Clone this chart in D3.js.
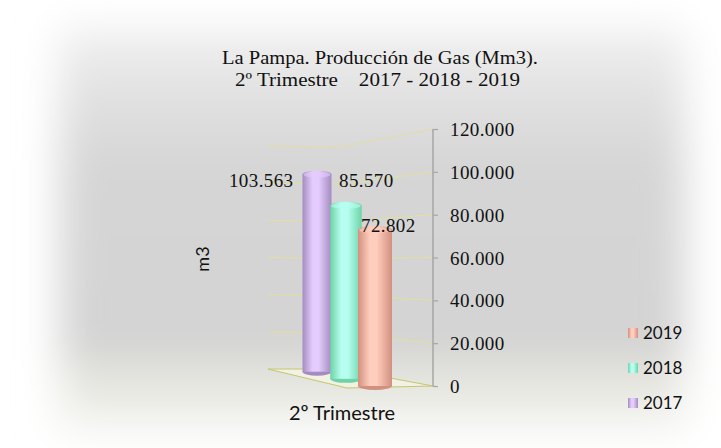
<!DOCTYPE html>
<html>
<head>
<meta charset="utf-8">
<script src="https://cdn.jsdelivr.net/npm/d3@7"></script>
<style>
  body { margin: 0; background: #fff; }
  svg { display: block; }
</style>
</head>
<body>
<svg id="chart" width="721" height="448"></svg>
<script>
// data
const years = ["2017", "2018", "2019"];
const values = [103563, 85570, 72802];
const labels = ["103.563", "85.570", "72.802"];
const category = "2º Trimestre";
const yTicks = [0, 20000, 40000, 60000, 80000, 100000, 120000];
const tickLabels = ["0", "20.000", "40.000", "60.000", "80.000", "100.000", "120.000"];

const colors = {
  "2017": ["#a58cc0", "#e4ccff"],
  "2018": ["#6fd3a6", "#b6fff0"],
  "2019": ["#d2907f", "#ffcdbd"]
};

const svg = d3.select("#chart");
const defs = svg.append("defs");

// soft grey backdrop
const bg = defs.append("linearGradient").attr("id", "bg").attr("x1", 0).attr("y1", 0).attr("x2", 0).attr("y2", 1);
[[0, "#f0f0f0"], [0.16, "#e2e2e2"], [0.35, "#d5d5d5"], [0.83, "#d3d3d3"], [0.85, "#e6e6df"], [0.94, "#eaeae4"], [1, "#f4f4f2"]]
  .forEach(([o, c]) => bg.append("stop").attr("offset", o).attr("stop-color", c));
defs.append("filter").attr("id", "blur").attr("x", "-20%").attr("y", "-20%").attr("width", "140%").attr("height", "140%")
  .append("feGaussianBlur").attr("stdDeviation", 20);

svg.append("rect").attr("width", 721).attr("height", 448).attr("fill", "#fff");
svg.append("rect")
  .attr("x", 60).attr("y", 28).attr("width", 625).attr("height", 400)
  .attr("fill", "url(#bg)")
  .attr("filter", "url(#blur)");

// cylinder gradients
years.forEach((yr) => {
  const g = defs.append("linearGradient").attr("id", "cyl" + yr).attr("x1", 0).attr("x2", 1).attr("y1", 0).attr("y2", 0);
  const [dark, light] = colors[yr];
  [[0, dark], [0.35, light], [0.55, light], [1, dark]]
    .forEach(([o, c]) => g.append("stop").attr("offset", o).attr("stop-color", c));
});

// 3d frame: back and front of the depth axis
const yBack = d3.scaleLinear().domain([0, 120000]).range([369, 146]);
const yFront = d3.scaleLinear().domain([0, 120000]).range([386, 129]);
const wallLeft = 268, wallCorner = 342, axisX = 433, floorFrontLeft = 347;

// depth of each series (0 = back wall, 1 = front)
const depth = d3.scalePoint().domain(years).range([0.16, 1]);
const cxScale = d3.scaleLinear().domain([0.16, 1]).range([317, 375]);
const wScale = d3.scaleLinear().domain([0.16, 1]).range([29, 34]);
const yAt = (t) => d3.scaleLinear().domain([0, 120000])
  .range([d3.interpolate(yBack(0), yFront(0))(t), d3.interpolate(yBack(120000), yFront(120000))(t)]);

// floor
svg.append("polygon")
  .attr("points", [[wallLeft, yBack(0)], [wallCorner, yBack(0)], [axisX, yFront(0)], [floorFrontLeft, yFront(0) + 2]].join(" "))
  .attr("fill", "#f1f1e4")
  .attr("stroke", "#c6c66e")
  .attr("stroke-width", 1);

// gridlines
svg.append("g").selectAll("polyline")
  .data(yTicks.filter((d) => d > 0))
  .join("polyline")
  .attr("points", (d) => [[wallLeft, yBack(d)], [wallCorner, yBack(d) + 1], [axisX, yFront(d)]].join(" "))
  .attr("fill", "none")
  .attr("stroke", "#e0e0a0")
  .attr("stroke-width", 1);

// axis
const axis = d3.axisRight(yFront).tickValues(yTicks).tickSize(5).tickFormat((d, i) => tickLabels[i]);
const ax = svg.append("g").attr("transform", `translate(${axisX},0)`).call(axis);
ax.select(".domain").attr("stroke", "#a6a6a6").attr("stroke-width", 1.5).attr("d", `M0,${yFront(120000)}V${yFront(0)}`);
ax.selectAll(".tick line").attr("stroke", "#a6a6a6").attr("stroke-width", 1.2);
ax.selectAll(".tick text")
  .attr("x", 17)
  .attr("dy", "0.35em")
  .attr("fill", "#111")
  .style("font-family", "'Liberation Serif', serif")
  .style("font-size", "19px")
  .style("letter-spacing", "0.4px");

// cylinders
const bars = svg.append("g").selectAll("g")
  .data(years.map((yr, i) => ({yr, v: values[i], label: labels[i], t: depth(yr)})))
  .join("g");

bars.each(function (d) {
  const g = d3.select(this);
  const y = yAt(d.t);
  const cx = cxScale(d.t), w = wScale(d.t), ry = 4;
  const top = y(d.v), base = y(0);
  g.append("ellipse").attr("cx", cx).attr("cy", base).attr("rx", w / 2).attr("ry", ry)
    .attr("fill", colors[d.yr][0]);
  g.append("rect").attr("x", cx - w / 2).attr("y", top).attr("width", w).attr("height", base - top)
    .attr("fill", `url(#cyl${d.yr})`);
  g.append("ellipse").attr("cx", cx).attr("cy", top).attr("rx", w / 2).attr("ry", ry)
    .attr("fill", `url(#cyl${d.yr})`);
  g.append("ellipse").attr("cx", cx).attr("cy", top).attr("rx", w / 2 - 1).attr("ry", ry - 1)
    .attr("fill", colors[d.yr][1]).attr("opacity", 0.6);
});

// data labels
const labelPos = {"2017": [-9, 12, "end"], "2018": [-7, -19, "start"], "2019": [-14, 2, "start"]};
svg.append("g").selectAll("text")
  .data(years.map((yr, i) => ({yr, v: values[i], label: labels[i], t: depth(yr)})))
  .join("text")
  .attr("x", (d) => cxScale(d.t) + (labelPos[d.yr][2] === "end" ? -wScale(d.t) / 2 : 0) + labelPos[d.yr][0])
  .attr("y", (d) => yAt(d.t)(d.v) + labelPos[d.yr][1])
  .attr("text-anchor", (d) => labelPos[d.yr][2])
  .attr("fill", "#111")
  .style("font-family", "'Liberation Serif', serif")
  .style("font-size", "19px")
  .style("letter-spacing", "0.4px")
  .text((d) => d.label);

// title
const title = svg.append("text")
  .attr("fill", "#111")
  .style("font-family", "'Liberation Serif', serif")
  .style("font-size", "19px");
title.append("tspan").attr("x", 222).attr("y", 64)
  .attr("textLength", 316).attr("lengthAdjust", "spacingAndGlyphs")
  .text("La Pampa. Producción de Gas (Mm3).");
title.append("tspan").attr("x", 235).attr("y", 86)
  .attr("textLength", 285).attr("lengthAdjust", "spacingAndGlyphs")
  .attr("xml:space", "preserve").text("2º Trimestre    2017 - 2018 - 2019");

// axis title
svg.append("text")
  .attr("transform", "translate(209,259) rotate(-90)")
  .attr("text-anchor", "middle")
  .attr("fill", "#111")
  .style("font-family", "Lato, sans-serif")
  .style("font-size", "18px")
  .text("m3");

// category label
svg.append("text")
  .attr("x", 342).attr("y", 420)
  .attr("text-anchor", "middle")
  .attr("fill", "#111")
  .style("font-family", "Lato, sans-serif")
  .style("font-size", "20px")
  .text(category);

// legend
const legendY = d3.scalePoint().domain(years.slice().reverse()).range([333, 403]);
const legend = svg.append("g").selectAll("g")
  .data(years)
  .join("g")
  .attr("transform", (d) => `translate(628,${legendY(d)})`);
legend.append("rect").attr("x", 0).attr("y", -5).attr("width", 10).attr("height", 10)
  .attr("fill", (d) => `url(#cyl${d})`);
legend.append("text")
  .attr("x", 15).attr("dy", "0.35em")
  .attr("fill", "#111")
  .style("font-family", "Lato, sans-serif")
  .style("font-size", "17px")
  .text((d) => d);
</script>
</body>
</html>
